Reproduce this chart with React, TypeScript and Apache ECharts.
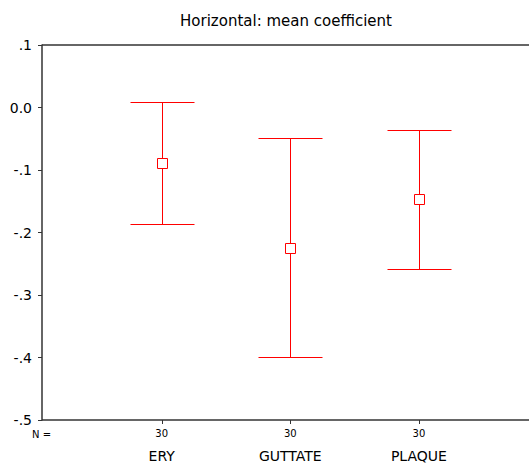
import React, { useEffect, useRef } from "react";
import * as echarts from "echarts";

const categories = ["ERY", "GUTTATE", "PLAQUE"];
const nValues = [30, 30, 30];
const means = [-0.0888, -0.2245, -0.1464];
const upper = [0.0093, -0.0483, -0.036];
const lower = [-0.186, -0.3997, -0.2584];
const positions = [1, 2, 3];

const FONT = "DejaVu Sans";

export default function App() {
  const ref = useRef<HTMLDivElement>(null);
  useEffect(() => {
    document.body.style.margin = "0";
    const chart = echarts.init(ref.current!, null, { renderer: "svg" });
    const xMin = 0.069;
    const xMax = 3.895;
    const red = "#ff0000";
    const axisColor = "#333333";
    const axisWidth = 1.5;
    const px = (v: number) => Math.round(v) + 0.5;
    chart.setOption({
      animation: false,
      backgroundColor: "#ffffff",
      textStyle: { fontFamily: FONT },
      graphic: [
        {
          type: "text",
          x: 286,
          y: 21,
          style: {
            text: "Horizontal: mean coefficient",
            fontFamily: FONT,
            fontSize: 15,
            fill: "#000",
            textAlign: "center",
            textVerticalAlign: "middle",
          },
        },
        {
          type: "text",
          x: 32,
          y: 434,
          style: {
            text: "N =",
            fontFamily: FONT,
            fontSize: 10,
            fill: "#000",
            textAlign: "left",
            textVerticalAlign: "middle",
          },
        },
      ],
      grid: {
        left: 42,
        top: 45,
        right: -5,
        height: 375,
        containLabel: false,
        outerBoundsMode: "none",
      },
      xAxis: [
        {
          type: "value",
          min: xMin,
          max: xMax,
          position: "bottom",
          axisLine: { show: false },
          axisTick: { show: false },
          axisLabel: {
            customValues: positions,
            formatter: (v: number) => String(nValues[Math.round(v) - 1]),
            fontSize: 10,
            margin: 8,
            color: "#000",
            fontFamily: FONT,
          },
          splitLine: { show: false },
        },
        {
          type: "value",
          min: xMin,
          max: xMax,
          position: "bottom",
          axisLine: { show: false },
          axisTick: { show: false },
          axisLabel: {
            customValues: positions,
            formatter: (v: number) => categories[Math.round(v) - 1],
            fontSize: 14,
            margin: 29,
            color: "#000",
            fontFamily: FONT,
          },
          splitLine: { show: false },
        },
      ],
      yAxis: {
        type: "value",
        min: -0.5,
        max: 0.1,
        interval: 0.1,
        axisLine: { show: true, onZero: false, lineStyle: { color: axisColor, width: axisWidth } },
        axisTick: { show: true, length: 4, lineStyle: { color: axisColor } },
        axisLabel: {
          fontSize: 14,
          margin: 10,
          color: "#000",
          fontFamily: FONT,
          formatter: (v: number) => {
            if (Math.abs(v) < 1e-9) return "0.0";
            return v.toFixed(1).replace("0.", ".");
          },
        },
        splitLine: { show: false },
      },
      series: [
        {
          type: "custom",
          xAxisIndex: 0,
          clip: false,
          data: positions.map((p, i) => [p, lower[i], means[i], upper[i]]),
          encode: { x: 0, y: [1, 2, 3] },
          renderItem: (params: any, api: any) => {
            const x = api.value(0);
            const lo = api.coord([x, api.value(1)]);
            const mid = api.coord([x, api.value(2)]);
            const hi = api.coord([x, api.value(3)]);
            const base = api.coord([x, -0.5]);
            const cx = px(mid[0]);
            const yLo = px(lo[1]);
            const yHi = px(hi[1]);
            const yMid = Math.round(mid[1]);
            const yBase = Math.round(base[1]);
            const half = 32;
            const box = 5;
            const ls = { stroke: red, lineWidth: 1 };
            const children: any[] = [
              { type: "line", shape: { x1: cx, y1: yHi, x2: cx, y2: yLo }, style: ls },
              { type: "line", shape: { x1: cx - half, y1: yHi, x2: cx + half, y2: yHi }, style: ls },
              { type: "line", shape: { x1: cx - half, y1: yLo, x2: cx + half, y2: yLo }, style: ls },
              {
                type: "rect",
                shape: { x: cx - box, y: yMid - box + 0.5, width: box * 2, height: box * 2 },
                style: { stroke: red, fill: "#ffffff", lineWidth: 1 },
              },
              {
                type: "line",
                shape: { x1: cx, y1: yBase, x2: cx, y2: yBase + 4 },
                style: { stroke: axisColor, lineWidth: 1 },
              },
            ];
            if (params.dataIndex === 0) {
              const cs = params.coordSys;
              const yt = cs.y;
              const yb = cs.y + cs.height;
              children.push(
                {
                  type: "line",
                  shape: { x1: cs.x, y1: yt, x2: cs.x + cs.width, y2: yt },
                  style: { stroke: axisColor, lineWidth: axisWidth },
                },
                {
                  type: "line",
                  shape: { x1: cs.x, y1: yb, x2: cs.x + cs.width, y2: yb },
                  style: { stroke: axisColor, lineWidth: axisWidth },
                }
              );
            }
            return { type: "group", children };
          },
        },
      ],
    });
    return () => chart.dispose();
  }, []);
  return <div ref={ref} style={{ width: 529, height: 464 }} />;
}
